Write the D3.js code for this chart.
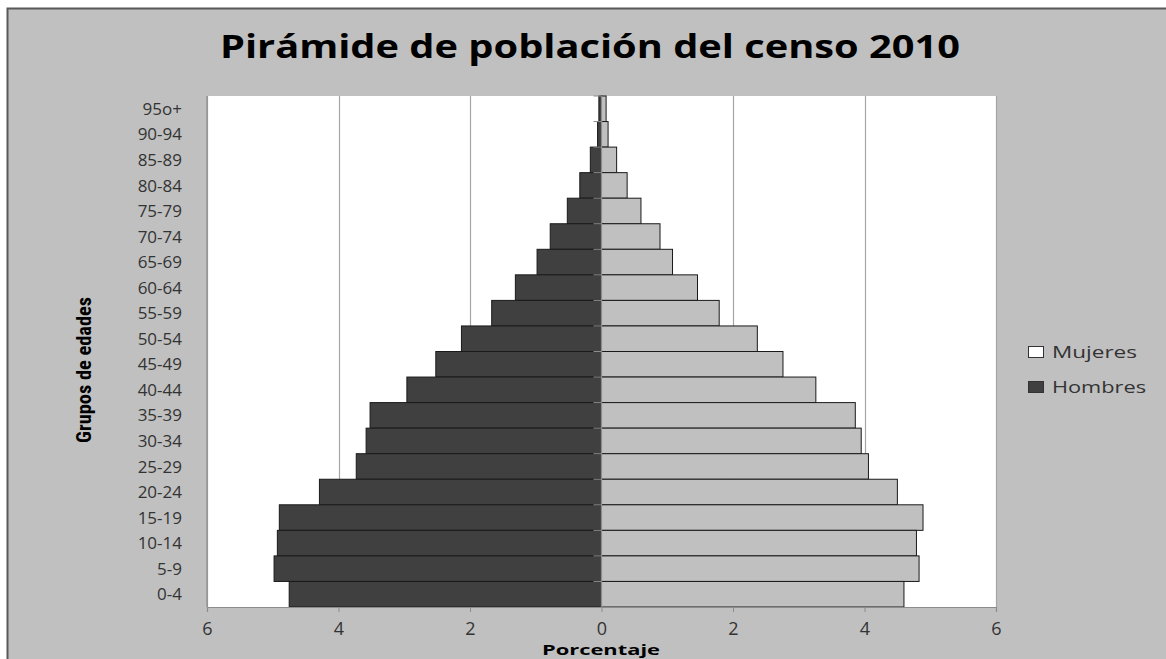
<!DOCTYPE html>
<html>
<head>
<meta charset="utf-8">
<script src="https://cdn.jsdelivr.net/npm/d3@7/dist/d3.min.js"></script>
<style>
  html, body { margin: 0; padding: 0; background: #ffffff; }
  svg { display: block; }
</style>
</head>
<body>
<svg id="chart" width="1166" height="659"></svg>
<script>
// Age groups, oldest first (top of the pyramid)
const ageGroups = ["95o+", "90-94", "85-89", "80-84", "75-79", "70-74", "65-69", "60-64",
  "55-59", "50-54", "45-49", "40-44", "35-39", "30-34", "25-29", "20-24",
  "15-19", "10-14", "5-9", "0-4"];

// Percentage of total population by sex
const hombres = [0.04, 0.06, 0.17, 0.33, 0.52, 0.78, 0.98, 1.31, 1.67, 2.13, 2.52, 2.96,
  3.52, 3.58, 3.73, 4.29, 4.90, 4.93, 4.98, 4.75];
const mujeres = [0.07, 0.10, 0.23, 0.39, 0.60, 0.89, 1.08, 1.46, 1.79, 2.37, 2.76, 3.26,
  3.86, 3.95, 4.06, 4.50, 4.89, 4.79, 4.83, 4.60];

const xTicks = [-6, -4, -2, 0, 2, 4, 6];
const seriesNames = ["Mujeres", "Hombres"];

const colorHombres = "#404040";
const colorMujeres = "#c0c0c0";
const textFont = "'Open Sans', 'DejaVu Sans', sans-serif";

const svg = d3.select("#chart");

// Chart frame
svg.append("rect")
  .attr("x", 7.5).attr("y", 8.5)
  .attr("width", 1170).attr("height", 670)
  .attr("fill", "#c0c0c0")
  .attr("stroke", "#595959")
  .attr("stroke-width", 2);

const plot = { left: 207, right: 996, top: 96, bottom: 607 };

const x = d3.scaleLinear().domain([-6, 6]).range([plot.left, plot.right]);
const y = d3.scaleBand().domain(ageGroups).range([plot.top, plot.bottom]).paddingInner(0).paddingOuter(0);

// Plot area
svg.append("rect")
  .attr("x", plot.left).attr("y", plot.top)
  .attr("width", plot.right - plot.left).attr("height", plot.bottom - plot.top)
  .attr("fill", "#ffffff");

// Vertical gridlines
svg.append("g")
  .selectAll("line")
  .data(xTicks.filter(d => d !== 0))
  .join("line")
  .attr("x1", d => Math.round(x(d)) + 0.5).attr("x2", d => Math.round(x(d)) + 0.5)
  .attr("y1", plot.top).attr("y2", plot.bottom)
  .attr("stroke", "#a6a6a6")
  .attr("stroke-width", 1.2);

// Bars: men to the left, women to the right
const bars = svg.append("g");
bars.selectAll("rect.h")
  .data(ageGroups)
  .join("rect")
  .attr("class", "h")
  .attr("x", (d, i) => x(-hombres[i]))
  .attr("y", d => y(d))
  .attr("width", (d, i) => x(0) - x(-hombres[i]))
  .attr("height", y.bandwidth())
  .attr("fill", colorHombres)
  .attr("stroke", "#1a1a1a")
  .attr("stroke-width", 1);

bars.selectAll("rect.m")
  .data(ageGroups)
  .join("rect")
  .attr("class", "m")
  .attr("x", x(0))
  .attr("y", d => y(d))
  .attr("width", (d, i) => x(mujeres[i]) - x(0))
  .attr("height", y.bandwidth())
  .attr("fill", colorMujeres)
  .attr("stroke", "#1a1a1a")
  .attr("stroke-width", 1);

// Category axis along zero, ticks at band edges
const zeroX = x(0);
svg.append("line")
  .attr("x1", zeroX).attr("x2", zeroX)
  .attr("y1", plot.top).attr("y2", plot.bottom)
  .attr("stroke", "#8c8c8c").attr("stroke-width", 1.2);
svg.append("g")
  .selectAll("line")
  .data(ageGroups)
  .join("line")
  .attr("x1", zeroX - 8).attr("x2", zeroX)
  .attr("y1", d => y(d)).attr("y2", d => y(d))
  .attr("stroke", "#8c8c8c").attr("stroke-width", 1);

// Left edge of the plot
svg.append("line")
  .attr("x1", plot.left).attr("x2", plot.left)
  .attr("y1", plot.top).attr("y2", plot.bottom)
  .attr("stroke", "#8c8c8c").attr("stroke-width", 1.2);

// Bottom value axis
const xAxis = d3.axisBottom(x)
  .tickValues(xTicks)
  .tickFormat(d => Math.abs(d))
  .tickSize(5)
  .tickPadding(10);
const gx = svg.append("g")
  .attr("transform", `translate(0,${plot.bottom})`)
  .call(xAxis);
gx.select(".domain").attr("stroke", "#8c8c8c").attr("stroke-width", 1.2);
gx.selectAll(".tick line").attr("stroke", "#8c8c8c");
gx.selectAll("text")
  .attr("fill", "#333333")
  .style("font-family", textFont)
  .style("font-size", "18px");

// Age group labels
svg.append("g")
  .selectAll("text")
  .data(ageGroups)
  .join("text")
  .attr("x", 182)
  .attr("y", d => y(d) + y.bandwidth() / 2)
  .attr("dy", "0.36em")
  .attr("text-anchor", "end")
  .attr("fill", "#333333")
  .style("font-family", textFont)
  .style("font-size", "17px")
  .text(d => d);

// Title
svg.append("text")
  .attr("x", 590).attr("y", 58)
  .attr("text-anchor", "middle")
  .attr("fill", "#000000")
  .attr("textLength", 740)
  .attr("lengthAdjust", "spacingAndGlyphs")
  .style("font-family", textFont)
  .style("font-weight", "bold")
  .style("font-size", "33px")
  .text("Pirámide de población del censo 2010");

// Axis titles
svg.append("text")
  .attr("x", 601).attr("y", 655)
  .attr("text-anchor", "middle")
  .attr("fill", "#000000")
  .attr("textLength", 118)
  .attr("lengthAdjust", "spacingAndGlyphs")
  .style("font-family", textFont)
  .style("font-weight", "bold")
  .style("font-size", "15px")
  .text("Porcentaje");

svg.append("text")
  .attr("transform", "translate(91,370) rotate(-90)")
  .attr("text-anchor", "middle")
  .attr("fill", "#000000")
  .attr("textLength", 146)
  .attr("lengthAdjust", "spacingAndGlyphs")
  .style("font-family", "'Liberation Sans Narrow', 'Roboto Condensed', 'Noto Sans', sans-serif")
  .style("font-weight", "bold")
  .style("font-size", "20px")
  .text("Grupos de edades");

// Legend
const legend = svg.append("g");
const legendColors = ["#ffffff", colorHombres];
const legendWidths = [85, 94];
legend.selectAll("rect")
  .data(seriesNames)
  .join("rect")
  .attr("x", 1028.5)
  .attr("y", (d, i) => 346.5 + i * 35)
  .attr("width", 15).attr("height", 11)
  .attr("fill", (d, i) => legendColors[i])
  .attr("stroke", "#333333")
  .attr("stroke-width", 1);
legend.selectAll("text")
  .data(seriesNames)
  .join("text")
  .attr("x", 1052)
  .attr("y", (d, i) => 351.5 + i * 35)
  .attr("dy", "0.36em")
  .attr("fill", "#333333")
  .attr("textLength", (d, i) => legendWidths[i])
  .attr("lengthAdjust", "spacingAndGlyphs")
  .style("font-family", textFont)
  .style("font-size", "17px")
  .text(d => d);
</script>
</body>
</html>
